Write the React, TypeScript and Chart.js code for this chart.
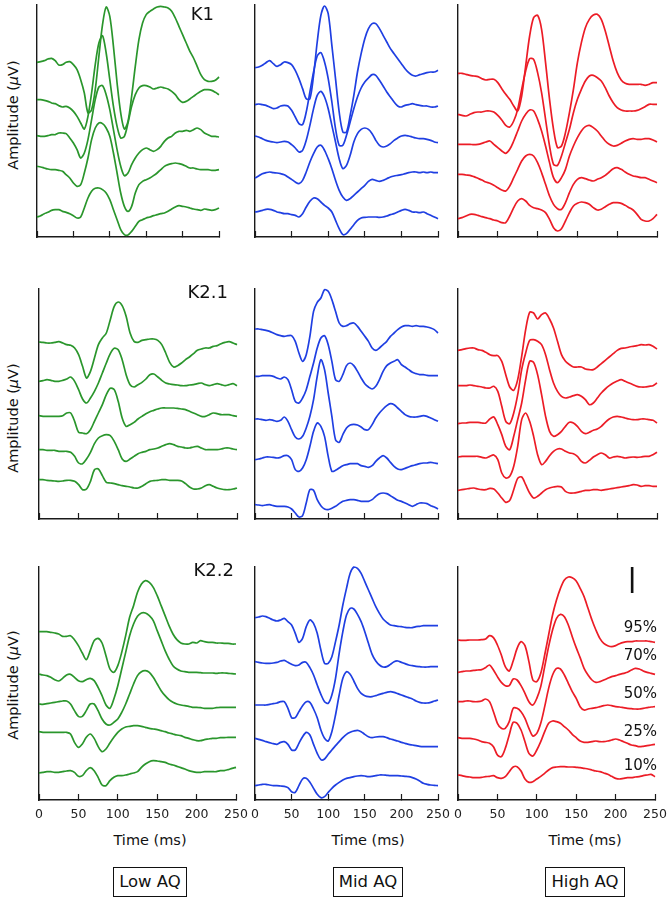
import React, { useEffect, useRef } from "react";
import { Chart, registerables } from "chart.js";

Chart.register(...registerables);

// ---------- data ----------
const TIME_MS = [0, 5, 10, 15, 20, 25, 30, 35, 40, 45, 50, 55, 60, 65, 70, 75, 80, 85, 90, 95, 100, 105, 110, 115, 120, 125, 130, 135, 140, 145, 150, 155, 160, 165, 170, 175, 180, 185, 190, 195, 200, 205, 210, 215, 220, 225, 230, 235, 240, 245, 250];
const X_TICKS = [0, 50, 100, 150, 200, 250];
const CONDITIONS = ["K1", "K2.1", "K2.2"];
const GROUPS = ["Low AQ", "Mid AQ", "High AQ"];
const LEVELS = ["95%", "70%", "50%", "25%", "10%"];
const Y_LABEL = "Amplitude (";
const X_LABEL = "Time (ms)";
const SCALE_BAR_TIME = 221;
const SCALE_BAR_FROM = 621;
const SCALE_BAR_TO = 699;

// traces ordered 95%, 70%, 50%, 25%, 10% (amplitude incl. stacking offset, arbitrary units)
const K1_LOW = [
  [524,526,529,534,536,529,516,517,524,526,517,502,472,432,372,382,442,542,637,690,662,572,462,372,324,347,422,512,592,642,667,677,684,690,692,690,687,677,657,632,607,582,557,537,512,487,472,467,467,470,480],
  [412,412,410,407,402,400,394,390,392,387,377,362,342,324,362,432,517,582,604,552,472,392,332,297,302,342,392,427,447,454,454,450,444,447,450,447,444,437,427,412,404,407,414,422,430,437,442,442,440,434,427],
  [304,302,302,304,307,307,312,312,310,297,282,262,237,252,292,352,412,450,454,427,382,322,262,212,184,192,217,237,252,262,267,262,257,262,272,287,297,302,312,317,317,320,317,322,327,322,312,307,302,302,300],
  [212,210,207,204,202,202,200,197,187,177,162,152,157,192,237,292,327,342,340,327,302,252,192,132,92,77,92,132,157,167,172,177,184,192,202,212,217,220,222,220,217,212,207,207,204,202,202,202,200,200,202],
  [60,64,70,74,80,82,82,77,74,70,64,57,60,87,117,137,146,147,142,132,112,82,52,22,7,6,17,32,47,52,57,60,64,67,70,72,77,84,90,94,92,90,87,84,82,80,84,82,80,82,87],
];
const K1_MID = [
  [508,510,515,523,529,520,512,517,525,523,517,500,475,445,415,415,485,585,665,693,670,575,475,375,315,315,365,425,495,550,595,625,640,640,625,605,585,565,550,535,520,505,493,485,483,487,490,493,495,495,500],
  [397,399,397,395,390,385,387,393,395,393,380,360,340,337,375,435,495,543,553,525,475,405,325,275,275,305,345,385,420,447,465,477,487,485,470,453,435,420,405,393,390,395,397,400,397,395,393,393,390,390,393],
  [303,300,295,290,287,285,283,285,287,285,277,267,255,260,290,335,385,425,437,420,385,335,285,235,205,215,245,285,310,323,327,323,310,290,275,270,273,280,290,297,303,305,303,300,297,295,295,293,290,285,283],
  [177,183,190,193,195,193,192,190,187,180,173,165,160,170,195,225,250,270,275,260,235,205,170,140,120,110,115,125,135,145,155,167,173,170,167,170,175,180,183,185,187,190,193,195,195,193,195,193,195,193,193],
  [75,77,80,83,83,80,75,73,70,70,67,65,60,70,90,107,117,115,105,95,87,75,50,25,7,10,23,37,50,57,59,60,60,60,59,60,63,67,70,75,80,83,80,75,75,73,75,70,65,60,55],
];
const K1_HIGH = [
  [491,491,488,485,483,481,475,471,473,473,463,445,428,413,393,378,423,513,603,658,665,623,523,413,323,268,273,313,373,443,523,583,628,653,666,668,653,618,573,528,493,471,461,458,458,458,458,455,458,463,463],
  [368,365,363,368,373,375,375,378,378,375,365,351,335,330,348,383,443,498,535,533,493,433,353,273,218,215,243,283,323,373,413,443,468,483,485,478,468,448,423,403,388,381,378,378,378,380,385,391,398,398,398],
  [278,278,278,278,277,278,281,285,288,278,268,258,251,263,288,318,348,368,381,378,353,318,273,223,178,163,178,203,243,273,298,318,331,335,328,318,303,288,278,273,275,281,288,293,295,293,293,295,295,291,285],
  [188,188,186,185,181,176,171,165,161,155,148,141,138,153,178,203,228,243,248,243,223,193,158,123,98,85,83,103,133,158,173,178,175,171,168,173,178,185,195,205,208,203,195,188,183,181,178,178,173,168,163],
  [55,58,63,68,68,65,61,58,55,51,48,43,43,63,88,108,115,108,95,88,85,81,73,53,28,18,25,48,73,93,101,105,103,98,88,81,83,91,98,103,103,101,95,88,81,68,53,48,48,55,68],
];
const K21_LOW = [
  [531,530,528,528,530,532,528,523,521,513,493,458,423,443,483,523,543,558,598,638,651,640,608,558,533,530,536,538,540,540,536,523,498,470,456,460,468,478,486,496,506,510,513,513,518,520,526,530,532,528,523],
  [413,415,418,416,413,413,416,420,426,413,388,360,348,363,383,408,438,468,496,512,508,478,433,403,396,403,410,420,433,435,426,416,408,405,403,402,400,400,402,403,406,408,403,400,403,406,403,400,403,406,400],
  [310,308,308,308,308,308,310,318,318,293,260,258,256,268,293,318,343,373,392,388,353,303,278,283,290,300,308,316,322,326,330,333,333,333,333,332,330,328,323,318,313,308,308,313,318,316,313,313,313,310,308],
  [208,208,206,206,206,203,203,203,200,188,168,166,180,200,226,243,250,253,250,233,208,180,173,180,188,196,200,203,208,210,213,218,223,226,223,218,216,213,213,216,218,213,208,208,208,208,210,213,213,210,208],
  [118,118,116,115,114,113,114,116,116,113,103,88,90,113,148,150,130,110,108,106,103,100,98,96,93,93,98,106,113,115,116,118,118,116,116,116,114,106,96,90,90,93,100,103,98,93,90,88,88,90,93],
];
const K21_MID = [
  [570,570,568,566,563,558,553,550,548,550,550,533,498,473,493,548,623,650,663,688,683,658,623,588,578,580,586,588,578,563,548,533,513,506,513,523,533,548,558,568,576,580,580,578,580,578,578,576,573,568,558],
  [428,428,430,430,430,428,423,420,426,418,388,353,348,363,388,428,468,513,543,550,523,473,418,413,433,460,468,460,443,423,406,396,390,398,418,443,460,468,473,478,463,456,448,440,436,433,433,431,430,430,430],
  [300,300,298,296,298,296,293,296,306,293,268,246,240,248,273,308,358,428,478,448,378,308,238,230,253,273,282,284,282,276,268,268,283,303,318,330,340,346,343,333,323,313,308,306,306,308,310,308,303,298,293],
  [178,180,183,186,186,185,183,185,190,190,178,148,143,153,178,218,263,288,278,248,188,143,146,153,160,163,166,166,166,160,158,155,160,173,183,190,183,170,158,150,148,152,156,160,163,166,168,168,170,168,166],
  [43,42,40,42,43,40,38,38,38,36,30,18,6,10,48,88,86,58,40,30,28,32,38,46,53,56,58,58,56,53,53,53,58,68,76,78,76,70,63,56,53,48,43,38,43,48,48,46,40,36,30],
];
const K21_HIGH = [
  [506,508,511,513,513,508,506,500,493,490,490,473,433,396,386,418,488,568,620,618,600,613,618,600,573,533,493,473,463,456,456,456,450,448,448,456,466,476,486,496,506,512,513,516,518,520,523,522,523,518,510],
  [400,400,400,402,400,398,396,393,393,398,383,338,293,286,318,373,448,498,536,538,533,523,493,448,408,383,368,363,366,370,373,368,358,343,348,363,378,390,400,408,414,418,413,408,403,398,396,396,398,400,408],
  [286,288,288,290,290,290,288,288,300,306,283,253,218,208,248,298,348,418,473,470,433,373,308,263,248,253,263,278,290,288,278,263,256,260,266,270,278,290,300,306,308,306,303,300,298,298,300,300,298,296,288],
  [186,188,188,188,188,188,185,183,188,192,178,138,123,128,158,218,298,318,293,248,193,163,173,190,203,210,210,203,198,196,188,173,168,176,186,193,198,193,183,186,188,186,183,185,186,185,186,188,188,193,200],
  [86,88,90,92,93,90,88,88,92,90,78,63,50,56,88,122,126,103,78,63,68,78,88,93,96,98,96,83,78,78,80,83,86,86,88,88,86,88,90,92,94,96,98,100,103,102,98,100,100,98,98],
];
const K22_LOW = [
  [505,505,505,503,501,498,491,491,493,481,463,441,421,448,478,485,471,433,393,383,403,443,493,548,583,623,648,658,653,638,613,583,553,523,498,481,471,468,468,473,471,478,475,473,473,471,471,470,470,468,468],
  [378,375,373,368,361,357,365,375,377,368,358,355,361,365,358,338,313,285,275,303,343,393,443,493,528,551,561,561,553,538,508,478,448,423,403,393,387,385,383,383,383,382,381,381,381,380,381,381,380,379,378],
  [288,287,289,291,293,295,297,297,288,268,251,251,268,288,288,268,243,228,225,233,243,263,288,318,348,373,385,388,383,368,348,328,313,301,293,288,285,283,281,278,278,277,275,275,275,277,278,278,278,278,278],
  [205,203,203,203,203,203,203,203,198,173,158,168,188,198,185,161,145,153,171,188,203,213,219,221,223,223,221,218,215,213,211,208,205,201,198,195,193,188,185,181,178,178,181,183,185,185,187,187,188,188,188],
  [81,83,85,85,83,83,85,87,88,83,71,73,88,97,88,68,45,43,58,68,73,73,75,78,81,85,98,108,115,118,117,115,113,108,105,101,97,93,88,85,83,83,85,85,85,85,88,88,91,95,98],
];
const K22_MID = [
  [547,549,552,550,545,540,537,540,545,535,525,500,473,485,520,540,530,500,450,410,410,430,475,525,585,635,680,699,695,680,655,630,605,580,560,543,533,525,523,521,520,518,517,517,520,521,523,523,523,523,523],
  [415,413,411,410,410,411,413,417,419,413,407,403,405,413,413,397,375,345,317,295,290,315,365,440,505,555,575,573,557,535,505,470,437,417,405,399,400,407,415,417,413,409,405,403,401,400,399,399,400,400,400],
  [285,285,285,285,287,289,291,295,295,275,247,247,265,283,295,293,273,247,210,185,177,205,255,315,365,385,377,357,335,320,313,310,310,313,317,320,323,325,323,319,315,311,307,303,297,293,291,291,293,297,300],
  [185,182,179,175,172,169,167,173,175,167,150,150,170,190,203,195,167,140,121,123,137,150,163,175,187,197,203,207,209,205,197,190,187,189,190,190,187,183,180,177,173,170,167,165,163,161,160,160,160,160,160],
  [43,45,47,47,45,43,43,42,41,37,25,23,43,63,65,53,35,17,7,10,23,35,45,53,60,65,67,70,72,73,72,70,71,73,75,75,74,73,73,73,72,71,70,67,63,57,50,47,45,44,43],
];
const K22_HIGH = [
  [480,479,479,480,480,480,481,483,493,487,465,435,400,387,417,455,475,463,415,360,355,380,435,495,555,600,635,660,669,667,657,635,610,575,540,510,485,470,463,460,463,469,473,475,475,477,477,477,477,475,473],
  [383,385,387,387,389,390,391,397,405,390,370,353,343,343,363,360,343,320,295,285,305,340,400,460,510,545,557,550,525,490,457,427,395,375,360,353,355,360,365,370,373,377,380,383,390,395,393,387,383,380,377],
  [295,295,297,297,295,295,297,303,295,265,230,215,215,235,275,275,265,245,215,192,200,230,280,335,375,395,393,375,350,325,305,280,270,273,275,277,280,283,285,283,280,279,277,275,274,273,273,275,277,279,280],
  [187,185,185,185,183,180,175,173,170,160,135,130,155,195,233,230,210,175,140,132,150,175,205,230,237,235,230,220,210,197,187,177,173,173,175,177,175,175,177,180,183,180,175,170,165,163,160,161,163,165,167],
  [75,73,70,69,67,67,68,70,71,73,67,65,70,85,99,100,87,63,53,55,63,71,80,90,97,99,100,100,99,99,98,97,95,93,90,87,85,81,77,71,65,63,65,67,67,69,70,73,75,77,70],
];

const PANEL_DATA = [
  [K1_LOW, K1_MID, K1_HIGH],
  [K21_LOW, K21_MID, K21_HIGH],
  [K22_LOW, K22_MID, K22_HIGH],
];

// ---------- layout / style ----------
const COLORS = ["#2a962c", "#1f3fe2", "#ec1c26"];
const ROW_GEOM = [
  { top: 5, bottom: 237, ymax: 696, ylabelY: 115, kRight: 214, kTop: 5 },
  { top: 289, bottom: 519, ymax: 690, ylabelY: 418, kRight: 228, kTop: 283 },
  { top: 567, bottom: 800, ymax: 699, ylabelY: 685, kRight: 234, kTop: 561 },
];
const COL_X = [
  [[37, 219], [255, 438], [458, 657]],
  [[39, 237], [255, 438], [458, 657]],
  [[39, 236], [255, 438], [458, 655]],
];
const BOTTOM_CENTERS = [150, 368, 585];
const LEVEL_TOPS = [620, 648, 686, 724, 758];
const AXIS_COLOR = "#1a1a1a";
const SANS = "'DejaVu Sans', 'Noto Sans', sans-serif";

function Panel({ row, col }: { row: number; col: number }) {
  const ref = useRef<HTMLCanvasElement>(null);
  const [L, R] = COL_X[row][col];
  const g = ROW_GEOM[row];
  const padL = 12, padR = 12, padT = 8, padB = 4;
  const axisH = row === 2 ? 24 : 0;
  const w = R - L + padL + padR;
  const h = g.bottom - g.top + padT + padB + axisH;

  useEffect(() => {
    if (!ref.current) return;
    const series = PANEL_DATA[row][col];
    const datasets: any[] = series.map((vals: number[]) => ({
      data: TIME_MS.map((t, i) => ({ x: t, y: vals[i] })),
      borderColor: COLORS[col],
      borderWidth: 1.7,
      pointRadius: 0,
      tension: 0.3,
      fill: false,
      clip: false,
    }));
    if (row === 2 && col === 2) {
      datasets.push({
        data: [
          { x: SCALE_BAR_TIME, y: SCALE_BAR_FROM },
          { x: SCALE_BAR_TIME, y: SCALE_BAR_TO },
        ],
        borderColor: "#111",
        borderWidth: 2.6,
        pointRadius: 0,
        tension: 0,
        clip: false,
      });
    }
    const chart = new Chart(ref.current, {
      type: "line",
      data: { datasets },
      options: {
        animation: false,
        responsive: false,
        events: [],
        layout: { padding: { left: padL, right: padR, top: padT, bottom: padB } },
        plugins: { legend: { display: false }, tooltip: { enabled: false } },
        scales: {
          x: {
            type: "linear",
            min: X_TICKS[0],
            max: X_TICKS[X_TICKS.length - 1],
            afterFit: (s: any) => {
              s.height = axisH;
              s.paddingLeft = 0;
              s.paddingRight = 0;
            },
            border: { display: true, color: AXIS_COLOR, width: 1.4 },
            grid: {
              display: true,
              drawOnChartArea: false,
              drawTicks: true,
              tickLength: -6,
              tickColor: AXIS_COLOR,
              tickWidth: 1.2,
            },
            ticks: {
              display: row === 2,
              stepSize: 50,
              autoSkip: false,
              maxRotation: 0,
              padding: 13,
              color: "#222",
              font: { family: "DejaVu Sans", size: 12.5 },
            },
          },
          y: {
            min: 0,
            max: g.ymax,
            afterFit: (s: any) => {
              s.width = 0;
              s.paddingTop = 0;
              s.paddingBottom = 0;
            },
            border: { display: true, color: AXIS_COLOR, width: 1.4 },
            grid: { display: false },
            ticks: { display: false },
          },
        },
      } as any,
    });
    return () => chart.destroy();
  }, []);

  return (
    <canvas
      ref={ref}
      width={w}
      height={h}
      style={{ position: "absolute", left: L - padL, top: g.top - padT, width: w, height: h }}
    />
  );
}

export default function App() {
  const rows = [0, 1, 2];
  const cols = [0, 1, 2];
  return (
    <div
      style={{
        position: "absolute",
        left: 0,
        top: 0,
        width: 672,
        height: 902,
        background: "#fff",
        overflow: "hidden",
        fontFamily: SANS,
        color: "#111",
      }}
    >
      {rows.map((r) => cols.map((c) => <Panel key={`${r}-${c}`} row={r} col={c} />))}

      {rows.map((r) => (
        <div
          key={`yl${r}`}
          style={{
            position: "absolute",
            left: 13 - 80,
            top: ROW_GEOM[r].ylabelY - 9,
            width: 160,
            height: 18,
            lineHeight: "18px",
            textAlign: "center",
            fontSize: 14.5,
            transform: "rotate(-90deg)",
            whiteSpace: "nowrap",
          }}
        >
          {Y_LABEL}
          <i>μ</i>V)
        </div>
      ))}

      {rows.map((r) => (
        <div
          key={`k${r}`}
          style={{
            position: "absolute",
            left: ROW_GEOM[r].kRight - 80,
            top: ROW_GEOM[r].kTop,
            width: 80,
            textAlign: "right",
            fontSize: 18,
            lineHeight: "18px",
            whiteSpace: "nowrap",
          }}
        >
          {CONDITIONS[r]}
        </div>
      ))}

      {LEVELS.map((lv, i) => (
        <div
          key={`lv${i}`}
          style={{
            position: "absolute",
            left: 657 - 60,
            top: LEVEL_TOPS[i],
            width: 60,
            textAlign: "right",
            fontSize: 15,
            lineHeight: "15px",
            whiteSpace: "nowrap",
          }}
        >
          {lv}
        </div>
      ))}

      {cols.map((c) => (
        <div
          key={`t${c}`}
          style={{
            position: "absolute",
            left: BOTTOM_CENTERS[c] - 60,
            top: 832,
            width: 120,
            textAlign: "center",
            fontSize: 14.5,
            lineHeight: "16px",
            whiteSpace: "nowrap",
          }}
        >
          {X_LABEL}
        </div>
      ))}

      {cols.map((c) => (
        <div
          key={`b${c}`}
          style={{
            position: "absolute",
            left: BOTTOM_CENTERS[c] - 60,
            top: 867,
            width: 120,
            textAlign: "center",
          }}
        >
          <span
            style={{
              display: "inline-block",
              border: "1px solid #111",
              padding: "0 5px",
              height: 28,
              lineHeight: "28px",
              fontSize: 16.5,
              whiteSpace: "nowrap",
            }}
          >
            {GROUPS[c]}
          </span>
        </div>
      ))}
    </div>
  );
}
